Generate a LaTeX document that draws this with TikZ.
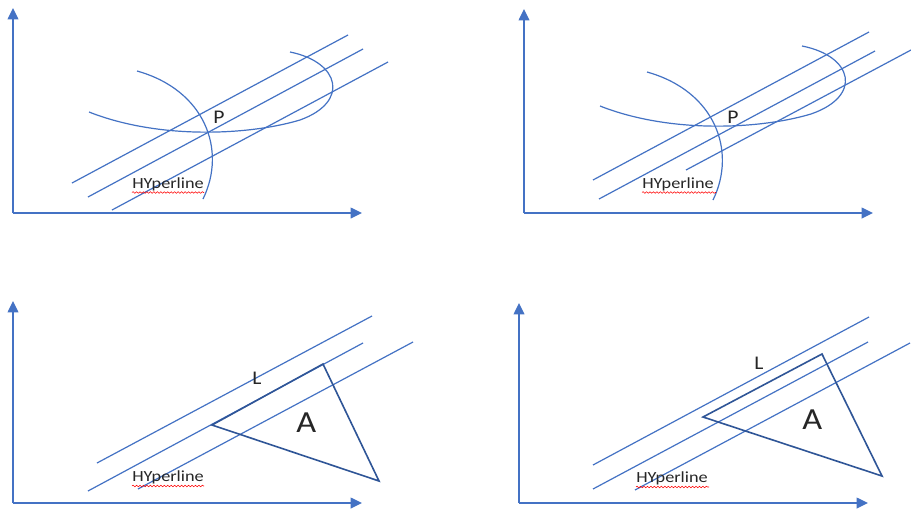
\documentclass[tikz,border=0pt]{standalone}
\usepackage{fontspec}
\setmainfont{Carlito}
\usetikzlibrary{arrows.meta,decorations.pathmorphing}
\definecolor{lblue}{HTML}{4472C4}
\definecolor{dblue}{HTML}{2F5597}
\definecolor{txt}{HTML}{262626}
\tikzset{
 axisarrow/.style={draw=lblue, line width=1.1pt, -{Triangle[length=8.5pt,width=8pt]}},
 hline/.style={draw=lblue, line width=0.9pt},
 curveline/.style={draw=lblue, line width=0.9pt},
 tri/.style={draw=dblue, line width=1.2pt, line join=miter},
 lbl/.style={text=txt, inner sep=0pt, anchor=base west, font=\fontsize{14.5}{15}\selectfont},
 biglbl/.style={text=txt, inner sep=0pt, anchor=base west, font=\fontsize{23}{24}\selectfont},
 hyp/.style={text=txt, inner sep=0pt, anchor=base west, font=\fontsize{11.6}{12}\selectfont},
 wavy/.style={draw=red, line width=0.4pt, decorate, decoration={snake, amplitude=0.6pt, segment length=2.6pt}}
}
\newcommand{\hyptext}{\scalebox{1.18}[1]{HYperline}}
\newcommand{\wide}[1]{\scalebox{1.12}[1]{#1}}
\begin{document}
\begin{tikzpicture}[x=0.75pt,y=-0.75pt]
\fill[white] (0,0) rectangle (911,511);
\useasboundingbox (0,0) rectangle (911,511);

% ---------- Panel 1 ----------
\coordinate (o1) at (13,213);
\coordinate (x1) at (362,213);
\coordinate (y1) at (13,8);
\draw[axisarrow] (o1) -- (x1);
\draw[axisarrow] (o1) -- (y1);
\coordinate (a1s) at (72,183);  \coordinate (a1e) at (348,35);
\coordinate (b1s) at (88,197);  \coordinate (b1e) at (363,49);
\coordinate (c1s) at (112,210); \coordinate (c1e) at (388,62);
\draw[hline] (a1s) -- (a1e);
\draw[hline] (b1s) -- (b1e);
\draw[hline] (c1s) -- (c1e);
\draw[curveline] (137,71) .. controls (205,90) and (227,150) .. (203,199);
\draw[curveline] (89,112) .. controls (160,140) and (250,135) .. (300,120)
   .. controls (350,102) and (340,62) .. (290,52);
\node[lbl] (p1) at (213,123) {\wide{P}};
\node[hyp] (h1) at (132,188) {\hyptext};
\coordinate (u1s) at (132,192.5); \coordinate (u1e) at (204,192.5);
\draw[wavy] (u1s) -- (u1e);

% ---------- Panel 2 ----------
\coordinate (o2) at (524,213);
\coordinate (x2) at (873,213);
\coordinate (y2) at (524,9);
\draw[axisarrow] (o2) -- (x2);
\draw[axisarrow] (o2) -- (y2);
\coordinate (a2s) at (593,180); \coordinate (a2e) at (869,32);
\coordinate (b2s) at (599,199); \coordinate (b2e) at (875,51);
\coordinate (c2s) at (686,170); \coordinate (c2e) at (911,50);
\draw[hline] (a2s) -- (a2e);
\draw[hline] (b2s) -- (b2e);
\draw[hline] (c2s) -- (c2e);
\begin{scope}[shift={(510,1)}]
\draw[curveline] (137,71) .. controls (205,90) and (227,150) .. (203,199);
\end{scope}
\begin{scope}[shift={(511,-6)}]
\draw[curveline] (89,112) .. controls (160,140) and (250,135) .. (300,120)
   .. controls (352,102) and (342,62) .. (291,52);
\end{scope}
\node[lbl] (p2) at (727,123) {\wide{P}};
\node[hyp] (h2) at (642,188) {\hyptext};
\coordinate (u2s) at (642,192.5); \coordinate (u2e) at (716,192.5);
\draw[wavy] (u2s) -- (u2e);

% ---------- Panel 3 ----------
\coordinate (o3) at (13,503);
\coordinate (x3) at (362,503);
\coordinate (y3) at (13,301);
\draw[axisarrow] (o3) -- (x3);
\draw[axisarrow] (o3) -- (y3);
\coordinate (a3s) at (97,463);  \coordinate (a3e) at (372,316);
\coordinate (b3s) at (88,491);  \coordinate (b3e) at (363,343);
\coordinate (c3s) at (138,489); \coordinate (c3e) at (413,342);
\draw[hline] (a3s) -- (a3e);
\draw[hline] (b3s) -- (b3e);
\draw[hline] (c3s) -- (c3e);
\coordinate (t3a) at (212,425); \coordinate (t3b) at (323,364); \coordinate (t3c) at (379,481);
\draw[tri] (t3a) -- (t3b) -- (t3c) -- cycle;
\node[lbl] (l3) at (252,384) {\wide{L}};
\node[biglbl] (ar3) at (296,432) {\wide{A}};
\node[hyp] (h3) at (132,481) {\hyptext};
\coordinate (u3s) at (132,486); \coordinate (u3e) at (204,486);
\draw[wavy] (u3s) -- (u3e);

% ---------- Panel 4 ----------
\coordinate (o4) at (519,503);
\coordinate (x4) at (868,503);
\coordinate (y4) at (519,303);
\draw[axisarrow] (o4) -- (x4);
\draw[axisarrow] (o4) -- (y4);
\coordinate (a4s) at (593,465); \coordinate (a4e) at (869,317);
\coordinate (b4s) at (593,489); \coordinate (b4e) at (868,342);
\coordinate (c4s) at (635,490); \coordinate (c4e) at (910,343);
\draw[hline] (a4s) -- (a4e);
\draw[hline] (b4s) -- (b4e);
\draw[hline] (c4s) -- (c4e);
\coordinate (t4a) at (703,417); \coordinate (t4b) at (822,354); \coordinate (t4c) at (882,476);
\draw[tri] (t4a) -- (t4b) -- (t4c) -- cycle;
\node[lbl] (l4) at (754,369) {\wide{L}};
\node[biglbl] (ar4) at (802,429) {\wide{A}};
\node[hyp] (h4) at (636,482) {\hyptext};
\coordinate (u4s) at (636,487); \coordinate (u4e) at (709,487);
\draw[wavy] (u4s) -- (u4e);
\end{tikzpicture}
\end{document}
